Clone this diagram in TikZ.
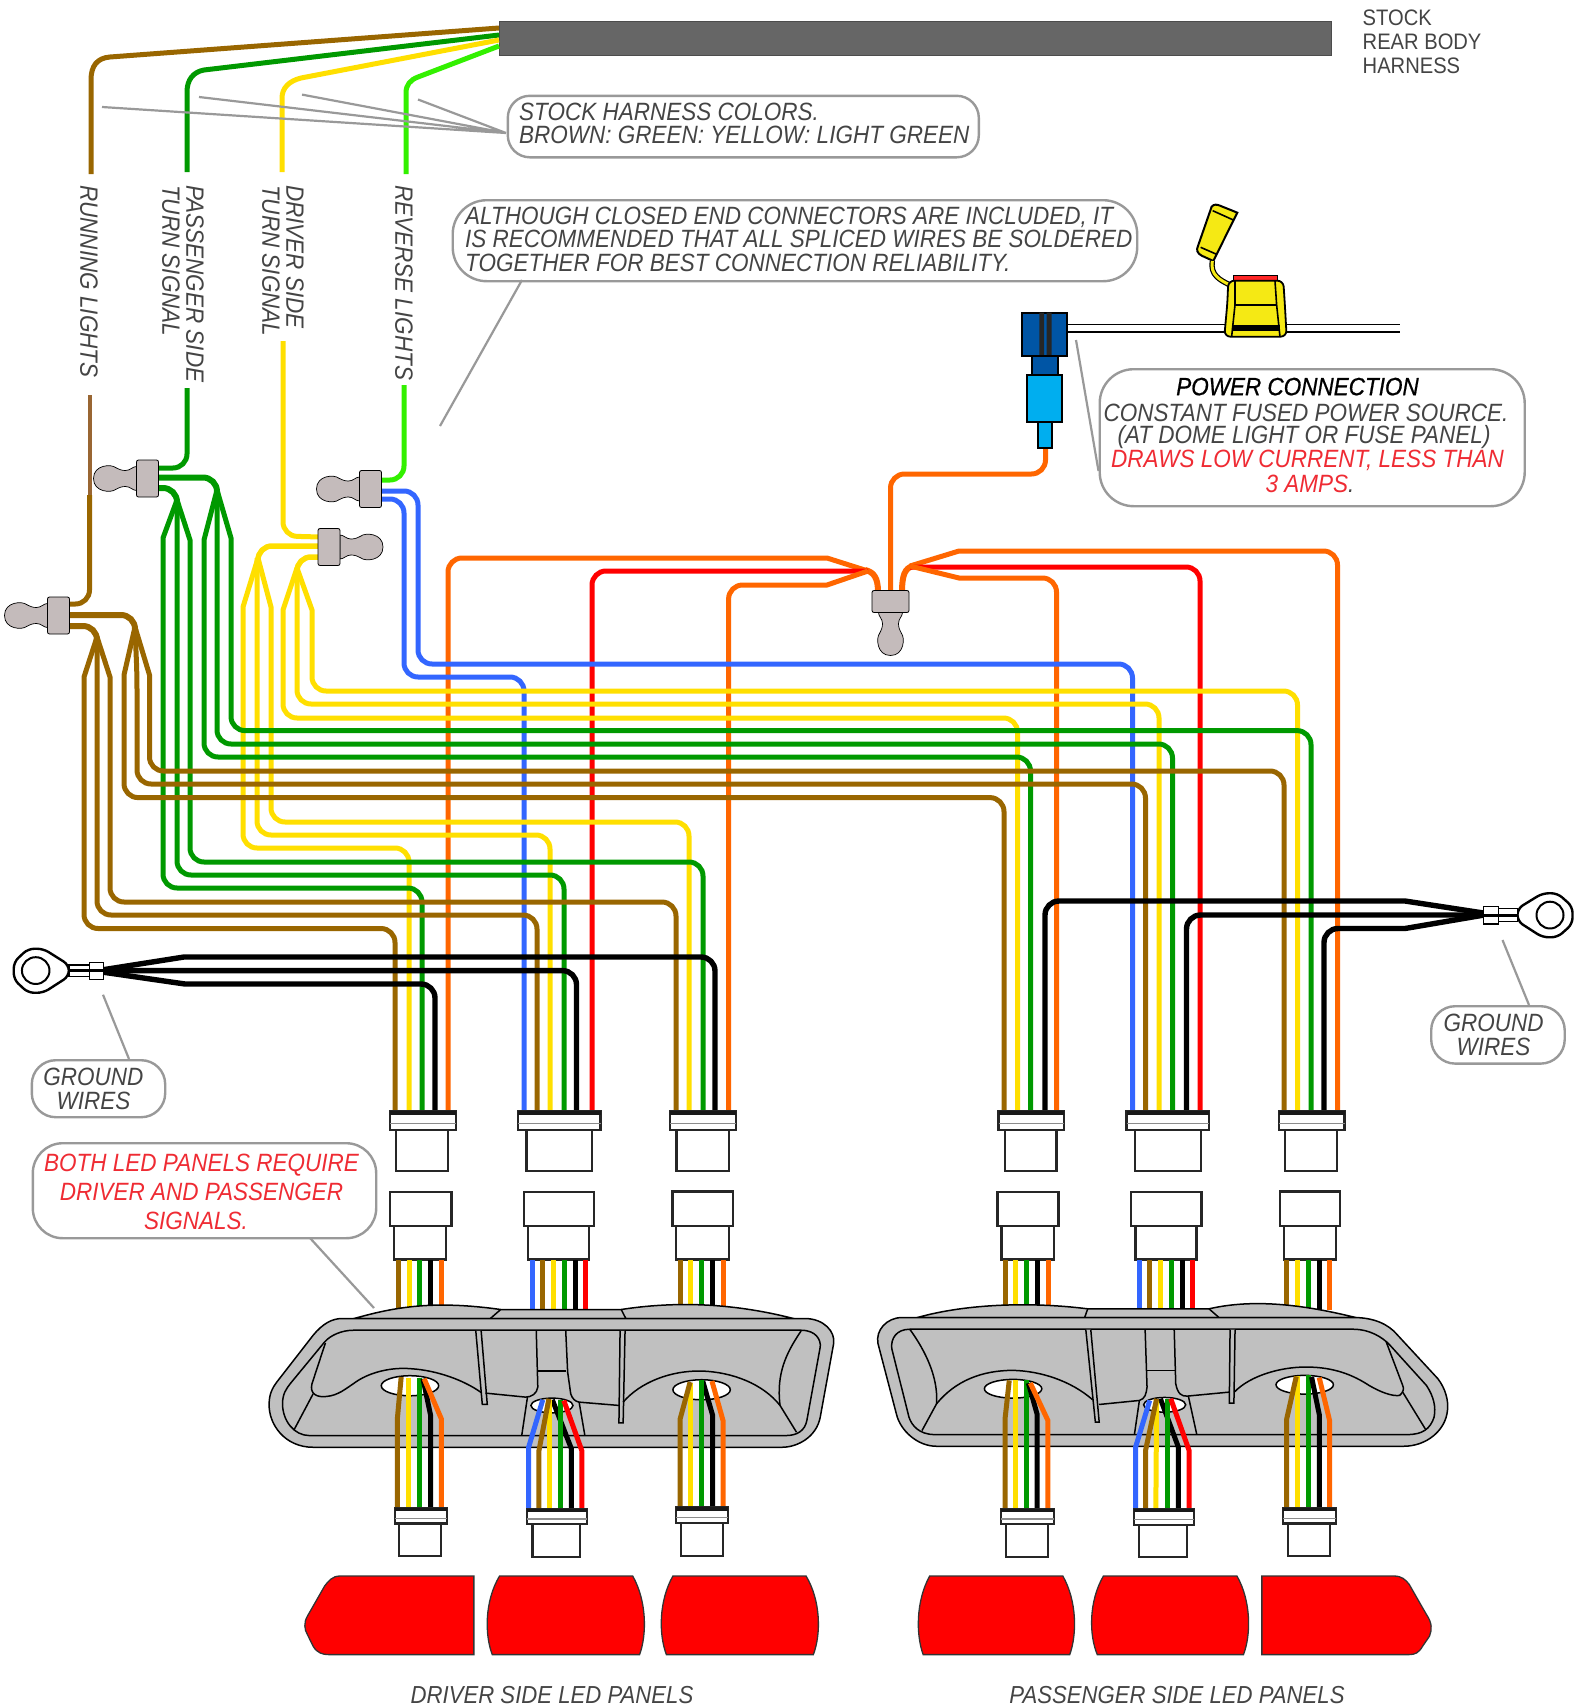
\documentclass[tikz,border=0pt]{standalone}
\usepackage{fontspec}
\setmainfont{Liberation Sans}[FakeStretch=0.9]
\newfontfamily\headfont{Liberation Sans}[FakeStretch=0.9,FakeBold=0.7]
\definecolor{wbrown}{HTML}{996600}
\definecolor{wlbrown}{HTML}{996633}
\definecolor{wgreen}{HTML}{009900}
\definecolor{wyellow}{HTML}{FFDF00}
\definecolor{wlime}{HTML}{33F000}
\definecolor{wblue}{HTML}{3366FF}
\definecolor{worange}{HTML}{FF6600}
\definecolor{wred}{HTML}{FF0000}
\definecolor{capgray}{HTML}{C4BBBB}
\definecolor{leadgray}{HTML}{999999}
\definecolor{txtgray}{HTML}{444444}
\definecolor{txtred}{HTML}{EF2B33}
\definecolor{panelgray}{HTML}{C0C0C0}
\definecolor{fuseyellow}{HTML}{F5E914}
\definecolor{tapblue}{HTML}{0055A5}
\definecolor{tapcyan}{HTML}{00AEEF}
\tikzset{
  wirepath/.style={line width=5pt,rounded corners=14pt},
  wb/.style={wirepath,draw=wbrown},
  wg/.style={wirepath,draw=wgreen},
  wy/.style={wirepath,draw=wyellow},
  wl/.style={wirepath,draw=wlime},
  wu/.style={wirepath,draw=wblue},
  wo/.style={wirepath,draw=worange},
  wr/.style={wirepath,draw=wred},
  wk/.style={wirepath,draw=black,line width=5.4pt},
  lw/.style={line width=5pt},
  leader/.style={draw=leadgray,line width=2.2pt},
  callout/.style={draw=leadgray,line width=2.4pt,fill=white,rounded corners=#1,inner sep=0pt,anchor=north west},
  callout/.default=24pt,
  say/.style={inner sep=0pt,text=txtgray,font=\fontsize{25}{23.6}\selectfont\itshape},
  sayr/.style={inner sep=0pt,text=txtred,font=\fontsize{25}{28.6}\selectfont\itshape},
  box/.style={draw=black!85,line width=2.2pt,fill=white},
  pl/.style={draw=black,line width=1.5pt},
  redp/.style={draw=black!80,line width=1.3pt,fill=wred},
  capconn/.pic={
    \draw[draw=black,line width=0.7pt,fill=capgray]
      (-11,-12) .. controls (-15,-12) and (-17,-8) .. (-22,-8)
      .. controls (-26,-8) and (-28,-9) .. (-32,-11)
      .. controls (-36,-14.5) and (-54,-14) .. (-54,0)
      .. controls (-54,14) and (-36,14.5) .. (-32,11)
      .. controls (-28,9) and (-26,8) .. (-22,8)
      .. controls (-17,8) and (-15,12) .. (-11,12) -- cycle;
    \draw[draw=black,line width=0.8pt,fill=capgray,rounded corners=2pt] (-11,-18.5) rectangle (11,18.5);
  }
}
\newcommand{\flange}[4]{% x1 x2 y1 y2
  \pgfmathsetmacro{\fa}{#3+0.2*(#4-#3)}
  \pgfmathsetmacro{\fb}{#3+0.66*(#4-#3)}
  \draw[box,fill=white] (#1,#3) rectangle (#2,#4);
  \fill[black!90] (#1,#3) rectangle (#2,\fa);
  \draw[black!45,line width=1.2pt] (#1,\fb) -- (#2,\fb);
}
\begin{document}
\begin{tikzpicture}[x=1pt,y=-1pt]
\useasboundingbox (0,0) rectangle (1583,1705);
\fill[white] (0,0) rectangle (1583,1705);
% named connector tops
\coordinate (d1top) at (423,1112);
\coordinate (d2top) at (559,1112);
\coordinate (d3top) at (703,1112);
\coordinate (p1top) at (1031,1112);
\coordinate (p2top) at (1168,1112);
\coordinate (p3top) at (1311,1112);
% leaders
\coordinate (h1) at (102,107); \coordinate (h2) at (199,97); \coordinate (h3) at (302,94.6); \coordinate (h4) at (418,99.5);
\coordinate (hroot) at (506,133);
% harness
\node[draw=black!70,line width=0.8pt,fill=black!60,minimum width=832pt,minimum height=34pt,inner sep=0pt,anchor=north west] (harness) at (499,21) {};
% top wires
\draw[wb,rounded corners=0pt] (499,28) -- (110,57) .. controls (97,58) and (91,66) .. (91,80) -- (91,174);
\draw[wg,rounded corners=0pt] (499,35) -- (204,70) .. controls (193,72) and (187,80) .. (187,92) -- (187,172);
\draw[wy,rounded corners=0pt] (499,40) -- (301,78) .. controls (289,81) and (282,88) .. (282,98) -- (282,172);
\draw[wl,rounded corners=0pt] (499,46) -- (418,77) .. controls (410,80) and (406,85) .. (406,93) -- (406,174);
% orange and red feeds
\draw[wo] (1045.5,449) -- (1045.5,474) -- (890.5,474) -- (890.5,592);
\draw[wo,line width=6pt,rounded corners=0pt] (878,592) .. controls (878,578) and (874,572) .. (865,570);
\draw[wo,line width=6pt,rounded corners=0pt] (902,592) .. controls (902,575) and (905,568) .. (913,566);
\draw[wo] (868,571) [sharp corners] -- (827,558) -- (800,558) [rounded corners=14pt] -- (448,558) -- (448,0 |- d1top);
\draw[wr] (868,571) -- (592,571) -- (592,0 |- d2top);
\draw[wo] (868,571) [sharp corners] -- (827,585) -- (800,585) [rounded corners=14pt] -- (728.6,585) -- (728.6,0 |- d3top);
\draw[wo] (910,566) [sharp corners] -- (959,551) -- (990,551) [rounded corners=14pt] -- (1337.5,551) -- (1337.5,0 |- p3top);
\draw[wr] (910,567) -- (1200,567) -- (1200,0 |- p2top);
\draw[wo] (910,566) [sharp corners] -- (959,578) -- (990,578) [rounded corners=14pt] -- (1056.5,578) -- (1056.5,0 |- p1top);
% blue
\draw[wu] (382,491) -- (418,491) -- (418,664) -- (1132.5,664) -- (1132.5,0 |- p2top);
\draw[wu] (382,499) -- (404,499) -- (404,677) -- (524,677) -- (524,0 |- d2top);
% yellow
\draw[wy] (283,341) -- (283,536) -- (320,537);
\draw[wy,line width=5.5pt] (318,546) -- (258,546) -- (258,562);
\draw[wy,line width=5.5pt] (318,557) -- (297,557) -- (297,572);
\draw[wy] (258,558) [sharp corners] -- (243,607) -- (243,640) [rounded corners=14pt] -- (243,848) -- (409,848) -- (409,0 |- d1top);
\draw[wy] (257,558) -- (257,835) -- (550,835) -- (550,0 |- d2top);
\draw[wy] (258,558) [sharp corners] -- (271,607) -- (271,640) [rounded corners=14pt] -- (271,822) -- (689,822) -- (689,0 |- d3top);
\draw[wy] (297,568) [sharp corners] -- (283,610) -- (283,640) [rounded corners=14pt] -- (283,718) -- (1017.5,718) -- (1017.5,0 |- p1top);
\draw[wy] (297,568) -- (297,704) -- (1159,704) -- (1159,0 |- p2top);
\draw[wy] (297,568) [sharp corners] -- (312,610) -- (312,640) [rounded corners=14pt] -- (312,691) -- (1297.5,691) -- (1297.5,0 |- p3top);
% green
\draw[wl] (404,385) -- (404,480) -- (380,480);
\draw[wg] (187,388) -- (187,468) -- (156,468);
\draw[wg,line width=6pt] (156,477.5) -- (217,477.5) -- (217,496);
\draw[wg,line width=6pt] (156,488) -- (177,488) -- (177,504);
\draw[wg] (177,500) [sharp corners] -- (163,538) -- (163,570) [rounded corners=14pt] -- (163,888) -- (422,888) -- (422,0 |- d1top);
\draw[wg] (177,500) -- (177,875) -- (564,875) -- (564,0 |- d2top);
\draw[wg] (177,500) [sharp corners] -- (190,540) -- (190,570) [rounded corners=14pt] -- (190,862) -- (703,862) -- (703,0 |- d3top);
\draw[wg] (217,490) [sharp corners] -- (204,540) -- (204,570) [rounded corners=14pt] -- (204,757) -- (1030.5,757) -- (1030.5,0 |- p1top);
\draw[wg] (217,490) -- (217,744) -- (1172.5,744) -- (1172.5,0 |- p2top);
\draw[wg] (217,490) [sharp corners] -- (231,538) -- (231,570) [rounded corners=14pt] -- (231,730.6) -- (1311,730.6) -- (1311,0 |- p3top);
% brown
\draw[draw=wlbrown,line width=4pt] (89.5,395) -- (89.5,495);
\draw[wb] (89.5,495) -- (89.5,604) -- (67,604);
\draw[wb,line width=6pt] (67,615) -- (135,615) -- (135,632);
\draw[wb,line width=6pt] (67,626) -- (97,626) -- (97,642);
\draw[wb] (97,637) [sharp corners] -- (84,677) -- (84,700) [rounded corners=14pt] -- (84,928.5) -- (395,928.5) -- (395,0 |- d1top);
\draw[wb] (97,637) -- (97,915) -- (537,915) -- (537,0 |- d2top);
\draw[wb] (97,637) [sharp corners] -- (110,677) -- (110,700) [rounded corners=14pt] -- (110,902) -- (676,902) -- (676,0 |- d3top);
\draw[wb] (135,627) [sharp corners] -- (124,675) -- (124,700) [rounded corners=14pt] -- (124,797.6) -- (1004,797.6) -- (1004,0 |- p1top);
\draw[wb] (135,627) -- (137,675) -- (137,784) -- (1145.5,784) -- (1145.5,0 |- p2top);
\draw[wb] (135,627) [sharp corners] -- (149.5,675) -- (149.5,700) [rounded corners=14pt] -- (149.5,771) -- (1284,771) -- (1284,0 |- p3top);
% black
\draw[wk] (95,971) [sharp corners] -- (184,957) -- (210,957) [rounded corners=14pt] -- (715,957) -- (715,0 |- d3top);
\draw[wk] (95,970.6) -- (576.5,970.6) -- (576.5,0 |- d2top);
\draw[wk] (95,971) [sharp corners] -- (185,984) -- (210,984) [rounded corners=14pt] -- (435,984) -- (435,0 |- d1top);
\draw[wk] (1490,914) [sharp corners] -- (1405,901) -- (1380,901) [rounded corners=14pt] -- (1045,901) -- (1045,0 |- p1top);
\draw[wk] (1490,915) -- (1186.5,915) -- (1186.5,0 |- p2top);
\draw[wk] (1490,914) [sharp corners] -- (1405,928.5) -- (1380,928.5) [rounded corners=14pt] -- (1324,928.5) -- (1324,0 |- p3top);
% closed end connectors
\pic (capG) at (147.5,478.5) {capconn};
\pic (capL) at (370.5,489) {capconn};
\pic[rotate=180] (capY) at (329,547) {capconn};
\pic (capB) at (58.5,615.5) {capconn};
\pic[rotate=90] (capO) at (890.5,601.5) {capconn};
% upper connector halves
\flange{390}{455.6}{1111}{1130}
\flange{518}{600.5}{1111}{1130}
\flange{670}{736}{1111}{1130}
\flange{998.5}{1064}{1111}{1130}
\flange{1126.5}{1209}{1111}{1130}
\flange{1279}{1344.5}{1111}{1130}
\draw[box] (396,1130) rectangle (448,1171);
\draw[box] (526.5,1130) rectangle (592,1171);
\draw[box] (676.5,1130) rectangle (728.6,1171);
\draw[box] (1005,1130) rectangle (1056.5,1171);
\draw[box] (1135,1130) rectangle (1201,1171);
\draw[box] (1285,1130) rectangle (1337,1171);
% lower blocks
\draw[box] (390,1192) rectangle (451.5,1226);
\draw[box] (394,1226) rectangle (446,1259.5);
\draw[box] (524,1192) rectangle (594,1226);
\draw[box] (528,1226) rectangle (589,1259.5);
\draw[box] (672.5,1191.5) rectangle (733,1226);
\draw[box] (676,1226) rectangle (728.6,1259.5);
\draw[box] (997.5,1192) rectangle (1058.5,1226);
\draw[box] (1001.5,1226) rectangle (1054,1259.5);
\draw[box] (1131,1192) rectangle (1201.5,1226);
\draw[box] (1135.5,1226) rectangle (1196.5,1259.5);
\draw[box] (1280,1191.5) rectangle (1340,1226);
\draw[box] (1284,1226) rectangle (1336,1259.5);
% wires between lower blocks and taillight housings
\foreach \xx/\cc in {398.5/wbrown,409/wyellow,419.5/wgreen,430.6/black,441/worange,
  680/wbrown,690.5/wyellow,701.6/wgreen,712/black,723/worange,
  1005/wbrown,1015.4/wyellow,1026.5/wgreen,1037/black,1048/worange,
  1286.7/wbrown,1297.4/wyellow,1308.5/wgreen,1319/black,1329.6/worange}
  {\draw[lw,draw=\cc] (\xx,1260) -- (\xx,1310);}
\foreach \xx/\cc in {532.4/wblue,542.8/wbrown,553.5/wyellow,564/wgreen,575/black,585.6/wred,
  1139.4/wblue,1149/wbrown,1160/wyellow,1171/wgreen,1182/black,1192/wred}
  {\draw[lw,draw=\cc] (\xx,1260) -- (\xx,1312);}
% driver side housing
\begin{scope}[shift={(250,1260)},x=0.3827pt,y=-0.3344pt]
  \draw[pl,fill=panelgray] (272,175) .. controls (380,140) and (480,120) .. (655,148) -- (970,148) .. controls (1100,125) and (1250,125) .. (1420,175) -- cycle;
  \draw[pl] (655,148) -- (628,175) (970,148) -- (982,175);
  \draw[pl,fill=panelgray] (240,175) -- (1450,175) .. controls (1500,175) and (1530,215) .. (1525,250) -- (1490,470) .. controls (1480,530) and (1430,560) .. (1390,560) -- (165,560) .. controls (90,560) and (48,490) .. (50,430) .. controls (50,400) and (60,380) .. (70,365) -- (165,225) .. controls (190,190) and (215,175) .. (240,175) -- cycle;
  \draw[pl] (270,210) -- (1440,210) .. controls (1480,210) and (1492,240) .. (1490,260) -- (1455,480) .. controls (1450,510) and (1430,525) .. (1400,525) -- (155,525) .. controls (115,525) and (85,480) .. (85,430) .. controls (85,400) and (95,385) .. (105,370) -- (195,245) .. controls (210,225) and (240,210) .. (270,210) -- cycle;
  \draw[pl] (197,248) -- (162,370) .. controls (155,400) and (175,412) .. (200,408) .. controls (230,405) and (250,385) .. (270,370) .. controls (310,335) and (370,320) .. (420,325) .. controls (490,330) and (560,360) .. (605,397);
  \draw[pl] (165,400) -- (115,508);
  \draw[pl,fill=panelgray] (590,212) -- (607,432) -- (620,432) -- (604,212);
  \draw[pl] (748,212) -- (752,380) .. controls (750,400) and (735,410) .. (720,410) -- (615,398);
  \draw[pl] (825,212) -- (830,335) -- (838,400) .. controls (842,415) and (850,423) .. (860,425) -- (965,435);
  \draw[pl] (752,332) -- (825,332);
  \draw[pl] (725,410) -- (710,525) (860,425) -- (875,525);
  \draw[pl,fill=panelgray] (967,212) -- (964,487) -- (975,487) -- (980,212);
  \draw[pl] (975,425) .. controls (1020,365) and (1100,330) .. (1180,332) .. controls (1260,335) and (1340,370) .. (1385,435) -- (1428,515);
  \draw[pl] (1440,212) .. controls (1400,280) and (1375,340) .. (1385,435);
  \draw[pl,fill=white] (418,376) ellipse [x radius=75,y radius=30];
  \draw[pl,fill=white] (789,435) ellipse [x radius=55,y radius=22];
  \draw[pl,fill=white] (1180,388) ellipse [x radius=75,y radius=30];
  % wires through the housing
  \draw[lw,draw=wbrown] (395,350) -- (385,475) -- (385,742);
  \draw[lw,draw=wyellow] (415,352) -- (415,742);
  \draw[lw,draw=wgreen] (444,352) -- (444,742);
  \draw[lw,draw=black] (452,355) -- (472,465) -- (472,742);
  \draw[lw,draw=worange] (455,355) -- (500,475) -- (500,742);
  \draw[lw,draw=black] (790,418) -- (840,565) -- (840,744);
  \draw[lw,draw=wblue] (765,418) -- (728,560) -- (728,744);
  \draw[lw,draw=wyellow] (783,420) -- (783,744);
  \draw[lw,draw=wbrown] (781,415) -- (755,570) -- (755,744);
  \draw[lw,draw=wgreen] (812,420) -- (812,744);
  \draw[lw,draw=wred] (820,420) -- (867,570) -- (867,744);
  \draw[lw,draw=wyellow] (1152,368) -- (1152,740);
  \draw[lw,draw=wbrown] (1150,365) -- (1124,475) -- (1124,740);
  \draw[lw,draw=black] (1183,362) -- (1209,465) -- (1209,740);
  \draw[lw,draw=wgreen] (1180,360) -- (1180,740);
  \draw[lw,draw=worange] (1207,362) -- (1236,480) -- (1236,740);
  % small connectors
  \flange{378}{515}{742}{788}
  \draw[box] (390,788) rectangle (500,885);
  \flange{723}{880}{744}{790}
  \draw[box] (738,790) rectangle (862,887);
  \flange{1113}{1250}{740}{786}
  \draw[box] (1127,786) rectangle (1236,884);
  % LED panels
  \draw[redp] (585,945) -- (235,945) .. controls (215,945) and (205,960) .. (195,975) -- (150,1065) .. controls (140,1085) and (142,1105) .. (150,1120) -- (165,1155) .. controls (175,1175) and (190,1180) .. (205,1180) -- (585,1180) -- cycle;
  \draw[redp] (652,945) -- (1000,945) .. controls (1037,1020) and (1037,1120) .. (1018,1180) -- (633,1180) .. controls (613,1120) and (613,1020) .. (652,945) -- cycle;
  \draw[redp] (1105,945) -- (1453,945) .. controls (1492,1020) and (1492,1120) .. (1472,1180) -- (1088,1180) .. controls (1068,1120) and (1068,1020) .. (1105,945) -- cycle;
\end{scope}
% passenger side housing
\begin{scope}[shift={(860,1260)},x=0.3827pt,y=-0.3344pt]
  \draw[pl,fill=panelgray] (150,172) .. controls (280,130) and (450,125) .. (595,146) -- (912,146) .. controls (1010,120) and (1130,125) .. (1295,172) -- cycle;
  \draw[pl] (595,146) -- (587,172) (912,146) -- (938,172);
  \draw[pl,fill=panelgray] (110,172) -- (1290,172) .. controls (1340,172) and (1380,190) .. (1405,225) -- (1510,355) .. controls (1530,385) and (1538,420) .. (1535,450) .. controls (1530,510) and (1480,557) .. (1420,557) -- (200,557) .. controls (150,557) and (105,510) .. (95,460) -- (47,250) .. controls (40,210) and (70,172) .. (110,172) -- cycle;
  \draw[pl] (130,207) -- (1290,207) .. controls (1330,207) and (1365,230) .. (1385,255) -- (1480,375) .. controls (1500,410) and (1505,440) .. (1500,470) .. controls (1490,505) and (1470,522) .. (1430,522) -- (195,522) .. controls (155,522) and (135,495) .. (128,470) -- (83,265) .. controls (80,235) and (95,207) .. (130,207) -- cycle;
  \draw[pl] (130,207) .. controls (170,270) and (205,350) .. (200,430);
  \draw[pl] (162,510) -- (200,430) .. controls (250,360) and (320,330) .. (400,330) .. controls (470,332) and (550,360) .. (608,418);
  \draw[pl,fill=panelgray] (590,208) -- (615,485) -- (625,485) -- (603,208);
  \draw[pl] (745,208) -- (750,380) .. controls (748,400) and (745,415) .. (730,420) -- (625,432);
  \draw[pl] (821,208) -- (825,370) .. controls (830,400) and (840,408) .. (855,407) -- (965,395);
  \draw[pl] (750,330) -- (825,330);
  \draw[pl] (730,420) -- (717,522) (858,407) -- (880,522);
  \draw[pl,fill=panelgray] (967,208) -- (965,428) -- (977,428) -- (980,208);
  \draw[pl] (978,395) .. controls (1020,345) and (1100,320) .. (1165,320) .. controls (1240,320) and (1290,345) .. (1330,375) .. controls (1360,395) and (1390,408) .. (1410,405) .. controls (1420,395) and (1422,385) .. (1418,375) -- (1375,245);
  \draw[pl] (1418,395) -- (1477,505);
  \draw[pl,fill=white] (400,385) ellipse [x radius=75,y radius=28];
  \draw[pl,fill=white] (796,433) ellipse [x radius=55,y radius=22];
  \draw[pl,fill=white] (1162,373) ellipse [x radius=75,y radius=28];
  % wires through the housing
  \draw[lw,draw=wbrown] (390,360) -- (379,475) -- (379,744);
  \draw[lw,draw=wyellow] (406,360) -- (406,744);
  \draw[lw,draw=wgreen] (435,360) -- (435,744);
  \draw[lw,draw=black] (440,368) -- (463,462) -- (463,744);
  \draw[lw,draw=worange] (445,368) -- (491,480) -- (491,744);
  \draw[lw,draw=black] (785,415) -- (832,560) -- (832,745);
  \draw[lw,draw=wblue] (757,420) -- (720,560) -- (720,745);
  \draw[lw,draw=wyellow] (775,420) -- (773,745);
  \draw[lw,draw=wbrown] (775,415) -- (746,570) -- (746,745);
  \draw[lw,draw=wgreen] (803,415) -- (803,745);
  \draw[lw,draw=wred] (812,415) -- (860,570) -- (860,745);
  \draw[lw,draw=wyellow] (1143,348) -- (1143,742);
  \draw[lw,draw=wbrown] (1140,348) -- (1115,475) -- (1115,742);
  \draw[lw,draw=wgreen] (1172,345) -- (1172,742);
  \draw[lw,draw=black] (1180,350) -- (1200,462) -- (1200,742);
  \draw[lw,draw=worange] (1200,352) -- (1227,480) -- (1227,742);
  % small connectors
  \flange{368}{507}{744}{790}
  \draw[box] (381,790) rectangle (491,887);
  \flange{715}{873}{745}{792}
  \draw[box] (730,792) rectangle (855,888);
  \flange{1105}{1244}{742}{788}
  \draw[box] (1118,788) rectangle (1228,886);
  % LED panels
  \draw[redp] (182,945) -- (530,945) .. controls (567,1020) and (567,1120) .. (548,1180) -- (165,1180) .. controls (146,1120) and (146,1020) .. (182,945) -- cycle;
  \draw[redp] (636,945) -- (985,945) .. controls (1022,1020) and (1022,1120) .. (1002,1180) -- (620,1180) .. controls (598,1120) and (598,1020) .. (636,945) -- cycle;
  \draw[redp] (1050,945) -- (1395,945) .. controls (1415,945) and (1425,955) .. (1435,970) -- (1480,1060) .. controls (1495,1085) and (1495,1105) .. (1488,1125) -- (1470,1155) .. controls (1460,1175) and (1450,1180) .. (1435,1180) -- (1050,1180) -- cycle;
\end{scope}
% ring lugs
\begin{scope}[shift={(0,700)},x=0.5102pt,y=-0.3827pt]
  \draw[draw=black,line width=2.4pt,fill=white,rounded corners=6pt] (135,692) -- (85,650) -- (55,650) -- (27,685) -- (27,730) -- (55,765) -- (85,765) -- (135,722) -- cycle;
  \draw[draw=black,line width=2pt,fill=white] (70,707) ellipse [x radius=27,y radius=35];
  \draw[draw=black,line width=1.4pt,fill=white] (135,692) rectangle (175,722);
  \draw[draw=black,line width=1.4pt,fill=white] (175,686) rectangle (203,730);
  \draw[draw=black,line width=3pt] (135,707) -- (203,707);
\end{scope}
\begin{scope}[shift={(800,700)},x=0.5pt,y=-0.3827pt]
  \draw[draw=black,line width=2.4pt,fill=white,rounded corners=6pt] (1435,545) -- (1485,505) -- (1515,505) -- (1545,540) -- (1545,585) -- (1515,620) -- (1485,620) -- (1435,578) -- cycle;
  \draw[draw=black,line width=2pt,fill=white] (1500,562) ellipse [x radius=27,y radius=35];
  \draw[draw=black,line width=1.4pt,fill=white] (1397,545) rectangle (1435,578);
  \draw[draw=black,line width=1.4pt,fill=white] (1367,540) rectangle (1397,585);
  \draw[draw=black,line width=3pt] (1367,562) -- (1435,562);
\end{scope}
% power tap
\draw[draw=black,line width=1.6pt] (1067,324.5) -- (1400,324.5) (1067,332) -- (1400,332);
\begin{scope}[shift={(990,190)},x=0.3333pt,y=-0.3333pt]
  \draw[draw=black,line width=2pt,fill=fuseyellow] (665,50) .. controls (672,42) and (680,43) .. (690,47) -- (742,68) -- (670,213) -- (635,197) .. controls (622,190) and (618,180) .. (624,168) -- cycle;
  \draw[draw=black,line width=5.4pt] (667,213) .. controls (660,255) and (690,270) .. (718,284);
  \draw[draw=fuseyellow,line width=3pt] (667,213) .. controls (660,255) and (690,270) .. (718,284);
  \draw[draw=black,line width=1.6pt] (668,62) -- (730,90) (632,172) -- (680,193);
  \draw[draw=black,line width=1.3pt,fill=red!85!white] (730,257) rectangle (862,272);
  \draw[draw=black,line width=1.8pt,fill=fuseyellow,rounded corners=6pt] (715,272) -- (880,272) -- (885,350) -- (890,440) -- (703,440) -- (712,340) -- cycle;
  \draw[draw=black,line width=1.6pt] (735,272) -- (735,345) -- (725,440) (855,272) -- (860,345) -- (870,440);
  \draw[draw=black,line width=2.8pt] (735,345) -- (860,345);
  \draw[draw=black,line width=1.1pt] (725,408) -- (870,408) (725,414) -- (870,414) (725,420) -- (870,420);
  \draw[draw=black,line width=2.2pt,fill=tapblue] (95,368) rectangle (232,497);
  \fill[black!85] (148,368) rectangle (162,497) (170,368) rectangle (185,497);
  \draw[draw=black,line width=2.2pt,fill=tapblue] (125,497) rectangle (203,555);
  \draw[draw=black,line width=2.2pt,fill=tapcyan] (112,555) rectangle (215,695);
  \draw[draw=black,line width=2.2pt,fill=tapcyan] (145,697) rectangle (187,773);
\end{scope}
% callouts
\draw[leader] (hroot) -- (h1) (hroot) -- (h2) (hroot) -- (h3) (hroot) -- (h4);
\node[callout=22pt,minimum width=471pt,minimum height=61.5pt] (cbStock) at (506.6,94.6) {};
\node[say,anchor=west,align=left] (tStock) at (519,123.5) {STOCK HARNESS COLORS.\\BROWN: GREEN: YELLOW: LIGHT GREEN};
\coordinate (aSplice) at (440,426);
\node[callout=34pt,minimum width=684.5pt,minimum height=81pt] (cbSplice) at (451.5,199) {};
\draw[leader] (522,280) -- (aSplice);
\node[say,anchor=west,align=left] (tSplice) at (465,239) {ALTHOUGH CLOSED END CONNECTORS ARE INCLUDED, IT\\IS RECOMMENDED THAT ALL SPLICED WIRES BE SOLDERED\\TOGETHER FOR BEST CONNECTION RELIABILITY.};
\coordinate (aPower) at (1076,340);
\coordinate (bPower) at (1098.5,471);
\draw[leader] (aPower) -- (bPower);
\node[callout=34pt,minimum width=425pt,minimum height=137pt] (cbPower) at (1098.5,368) {};
\node[inner sep=0pt,text=black,font=\fontsize{25}{23.6}\headfont\itshape] (tPowerHead) at (1297.5,386.6) {POWER CONNECTION};
\node[say] (tPower1) at (1306,413) {CONSTANT FUSED POWER SOURCE.};
\node[say] (tPower2) at (1304,436.6) {(AT DOME LIGHT OR FUSE PANEL)};
\node[say,text=txtred] (tPower3) at (1307.5,460.7) {DRAWS LOW CURRENT, LESS THAN};
\node[say,text=txtred] (tPower4) at (1310,484) {3 AMPS\textcolor{txtgray}{.}};
\coordinate (aGroundL) at (103,994.7);
\node[callout=24pt,minimum width=133.4pt,minimum height=57pt] (cbGroundL) at (30.6,1059) {};
\draw[leader] (aGroundL) -- (129,1059);
\node[say,align=center] (tGroundL) at (93.4,1089) {GROUND\\WIRES};
\coordinate (aGroundR) at (1502.5,940);
\node[callout=24pt,minimum width=133.5pt,minimum height=57.4pt] (cbGroundR) at (1430,1005) {};
\draw[leader] (aGroundR) -- (1529,1005);
\node[say,align=center] (tGroundR) at (1493.5,1035) {GROUND\\WIRES};
\coordinate (aBoth) at (374,1308);
\node[callout=30pt,minimum width=343.4pt,minimum height=95pt] (cbBoth) at (31.6,1142) {};
\draw[leader] (310,1238) -- (aBoth);
\node[sayr,align=center] (tBoth1) at (201.5,1177.5) {BOTH LED PANELS REQUIRE\\DRIVER AND PASSENGER};
\node[sayr] (tBoth2) at (196,1220.5) {SIGNALS.};
% wire labels
\node[say,rotate=-90,anchor=west] (lRun) at (89,185) {RUNNING LIGHTS};
\node[say,rotate=-90,anchor=west] (lPass1) at (195,185) {PASSENGER SIDE};
\node[say,rotate=-90,anchor=west] (lPass2) at (171,185) {TURN SIGNAL};
\node[say,rotate=-90,anchor=west] (lDrv1) at (295,185) {DRIVER SIDE};
\node[say,rotate=-90,anchor=west] (lDrv2) at (271,185) {TURN SIGNAL};
\node[say,rotate=-90,anchor=west] (lRev) at (404,185) {REVERSE LIGHTS};
% plain labels
\node[inner sep=0pt,text=txtgray,font=\fontsize{22.4}{24}\selectfont,align=left,anchor=west] (tHarness) at (1362.5,42) {STOCK\\REAR BODY\\HARNESS};
\node[say,font=\fontsize{24.6}{23.6}\selectfont\itshape,anchor=base] (tDrvPanels) at (552,1703) {DRIVER SIDE LED PANELS};
\node[say,font=\fontsize{24.6}{23.6}\selectfont\itshape,anchor=base] (tPasPanels) at (1177,1703) {PASSENGER SIDE LED PANELS};
\end{tikzpicture}
\end{document}
